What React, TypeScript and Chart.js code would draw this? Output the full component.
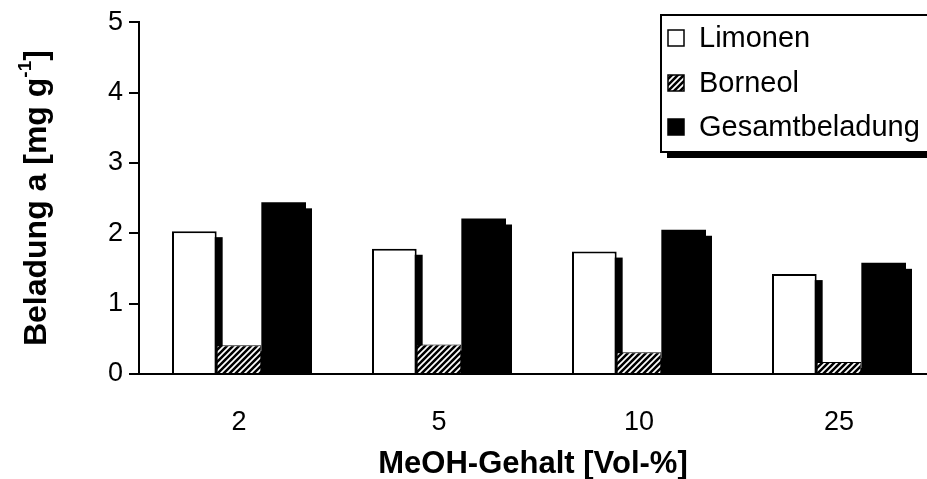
import React, { useEffect, useRef } from "react";
import { Chart, registerables } from "chart.js";
Chart.register(...registerables);

const categories = ["2", "5", "10", "25"];
const limonen = [2.03, 1.78, 1.74, 1.42];
const borneol = [0.41, 0.42, 0.31, 0.17];
const gesamt = [2.44, 2.21, 2.05, 1.58];
const seriesNames = ["Limonen", "Borneol", "Gesamtbeladung"];
const xTitle = "MeOH-Gehalt [Vol-%]";
const yTitleMain = "Beladung a [mg g";
const yTitleSup = "-1";
const yTitleEnd = "]";

const FONT = "'Liberation Sans', Arial, Helvetica, sans-serif";

function makeHatch(ctx: CanvasRenderingContext2D) {
  const c = document.createElement("canvas");
  c.width = 6;
  c.height = 6;
  const g = c.getContext("2d")!;
  g.fillStyle = "#000";
  g.fillRect(0, 0, 6, 6);
  g.strokeStyle = "#fff";
  g.lineWidth = 1.7;
  g.beginPath();
  g.moveTo(-1, 7);
  g.lineTo(7, -1);
  g.moveTo(-1, 1);
  g.lineTo(1, -1);
  g.moveTo(5, 7);
  g.lineTo(7, 5);
  g.stroke();
  return ctx.createPattern(c, "repeat")!;
}

export default function App() {
  const ref = useRef<HTMLCanvasElement>(null);
  useEffect(() => {
    const canvas = ref.current!;
    const ctx0 = canvas.getContext("2d")!;
    const hatch = makeHatch(ctx0);
    const fills = ["#fff", hatch, "#000"];

    const shadowPlugin = {
      id: "barShadow",
      beforeDatasetsDraw(chart: any) {
        const ctx = chart.ctx;
        const area = chart.chartArea;
        ctx.save();
        ctx.beginPath();
        ctx.rect(area.left, 0, area.right - area.left + 30, area.bottom);
        ctx.clip();
        ctx.fillStyle = "#000";
        chart.data.datasets.forEach((_d: any, i: number) => {
          const meta = chart.getDatasetMeta(i);
          meta.data.forEach((el: any) => {
            const p = el.getProps(["x", "y", "base", "width"], true);
            const left = p.x - p.width / 2;
            ctx.fillRect(left + 6, p.y + 6, p.width, p.base - p.y - 6);
          });
        });
        ctx.restore();
      },
    };

    const decorPlugin = {
      id: "decor",
      afterDraw(chart: any) {
        const ctx = chart.ctx;
        const area = chart.chartArea;
        ctx.save();
        // y title
        ctx.fillStyle = "#000";
        ctx.textBaseline = "middle";
        const big = "bold 32px " + FONT;
        const small = "bold 19px " + FONT;
        ctx.font = big;
        const w1 = ctx.measureText(yTitleMain).width;
        const w3 = ctx.measureText(yTitleEnd).width;
        ctx.font = small;
        const w2 = ctx.measureText(yTitleSup).width;
        const total = w1 + w2 + w3;
        ctx.translate(37, (area.top + area.bottom) / 2);
        ctx.rotate(-Math.PI / 2);
        ctx.textAlign = "left";
        ctx.font = big;
        ctx.fillText(yTitleMain, -total / 2, 0);
        ctx.font = small;
        ctx.fillText(yTitleSup, -total / 2 + w1, -11);
        ctx.font = big;
        ctx.fillText(yTitleEnd, -total / 2 + w1 + w2, 0);
        ctx.restore();

        // x title
        ctx.save();
        ctx.fillStyle = "#000";
        ctx.font = "bold 31px " + FONT;
        ctx.textAlign = "center";
        ctx.textBaseline = "middle";
        ctx.fillText(xTitle, 533, 464);
        ctx.restore();

        // legend
        ctx.save();
        const bx = 661, by = 15, bw = 300, bh = 137;
        ctx.fillStyle = "#000";
        ctx.fillRect(bx + 6, by + 6, bw, bh);
        ctx.fillStyle = "#fff";
        ctx.fillRect(bx, by, bw, bh);
        ctx.strokeStyle = "#000";
        ctx.lineWidth = 2;
        ctx.strokeRect(bx, by, bw, bh);
        const rows = [38, 83, 127];
        ctx.font = "29px " + FONT;
        ctx.textBaseline = "middle";
        ctx.textAlign = "left";
        seriesNames.forEach((name, i) => {
          const cy = rows[i];
          ctx.fillStyle = fills[i] as any;
          ctx.fillRect(668, cy - 8, 16, 16);
          ctx.lineWidth = 1.5;
          ctx.strokeStyle = "#000";
          ctx.strokeRect(668, cy - 8, 16, 16);
          ctx.fillStyle = "#000";
          ctx.fillText(name, 699, cy + 1);
        });
        ctx.restore();
      },
    };

    const chart = new Chart(canvas, {
      type: "bar",
      data: {
        labels: categories,
        datasets: [
          { label: seriesNames[0], data: limonen, backgroundColor: "#fff", borderColor: "#000", borderWidth: 2 },
          { label: seriesNames[1], data: borneol, backgroundColor: hatch as any, borderColor: "#000", borderWidth: 1 },
          { label: seriesNames[2], data: gesamt, backgroundColor: "#000", borderColor: "#000", borderWidth: 0 },
        ],
      },
      options: {
        responsive: true,
        maintainAspectRatio: false,
        animation: false,
        datasets: { bar: { categoryPercentage: 0.67, barPercentage: 1.0 } },
        layout: { padding: { left: 0, top: 21, right: 6, bottom: 0 } },
        plugins: { legend: { display: false }, tooltip: { enabled: false }, title: { display: false } },
        scales: {
          x: {
            type: "category",
            offset: true,
            grid: { display: false },
            border: { display: true, color: "#000", width: 2 },
            ticks: { color: "#000", font: { family: FONT, size: 27 }, padding: 24, maxRotation: 0 },
            afterFit(s: any) { s.height = 105; },
          },
          y: {
            min: 0,
            max: 5,
            ticks: { stepSize: 1, color: "#000", font: { family: FONT, size: 27 }, padding: 6 },
            grid: { drawOnChartArea: false, drawTicks: true, tickLength: 10, color: "#000", lineWidth: 2 },
            border: { display: true, color: "#000", width: 2 },
            afterFit(s: any) { s.width = 139; },
          },
        },
      } as any,
      plugins: [shadowPlugin, decorPlugin],
    });
    return () => chart.destroy();
  }, []);
  return (
    <div style={{ position: "absolute", left: 0, top: 0, width: 927, height: 479, overflow: "hidden", background: "#fff" }}>
      <div style={{ position: "relative", width: 945, height: 479 }}>
        <canvas ref={ref} />
      </div>
    </div>
  );
}
